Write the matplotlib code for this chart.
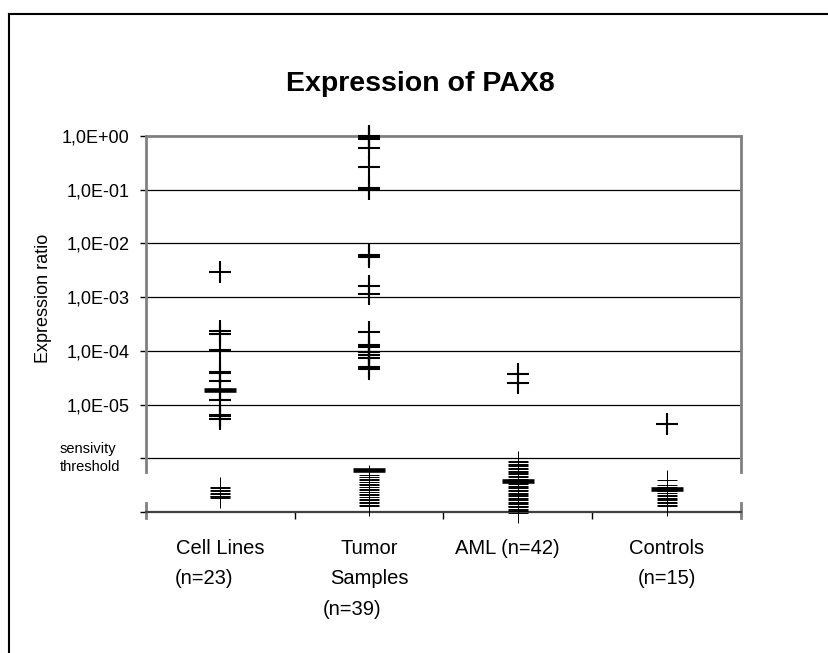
import matplotlib
matplotlib.use('Agg')
import matplotlib.pyplot as plt
from matplotlib.lines import Line2D

plt.rcParams['font.family'] = ['Liberation Sans', 'DejaVu Sans']

# --- data ---
categories = ['Cell Lines', 'Tumor Samples', 'AML', 'Controls']

cell_lines_detected = [3.0e-3, 2.3e-4, 2.1e-4, 1.05e-4, 4.0e-5, 3.8e-5, 2.8e-5,
                       1.9e-5, 1.85e-5, 1.2e-5, 6.3e-6, 6.1e-6, 5.3e-6]
cell_lines_below = [2.9e-7, 2.75e-7, 2.6e-7, 2.45e-7, 2.3e-7, 2.15e-7, 2.0e-7,
                    1.95e-7, 1.9e-7, 1.85e-7]

tumor_detected = [1.02, 0.97, 0.88, 0.60, 0.26, 0.108, 0.103, 6.1e-3, 5.5e-3,
                  1.63e-3, 1.16e-3, 2.27e-4, 1.26e-4, 1.18e-4, 9.6e-5, 8.4e-5,
                  7.4e-5, 4.9e-5, 4.6e-5]
tumor_below = [4.88e-7, 4.48e-7, 4.2e-7, 3.94e-7, 3.61e-7, 3.39e-7, 3.18e-7,
               2.92e-7, 2.73e-7, 2.56e-7, 2.35e-7, 2.21e-7, 2.07e-7, 1.9e-7,
               1.78e-7, 1.67e-7, 1.53e-7, 1.44e-7, 1.35e-7, 1.29e-7]

aml_detected = [3.66e-5, 2.55e-5]
aml_below = [8.9e-7, 8.4e-7, 7.9e-7, 7.5e-7, 7.05e-7, 6.6e-7, 6.25e-7, 5.9e-7,
             5.6e-7, 5.3e-7, 5.0e-7, 4.7e-7, 4.4e-7, 4.15e-7, 3.95e-7, 3.7e-7,
             3.5e-7, 3.3e-7, 3.1e-7, 2.95e-7, 2.75e-7, 2.6e-7, 2.45e-7, 2.3e-7,
             2.2e-7, 2.07e-7, 1.95e-7, 1.85e-7, 1.74e-7, 1.64e-7, 1.55e-7,
             1.46e-7, 1.38e-7, 1.3e-7, 1.3e-7, 1.23e-7, 1.16e-7, 1.09e-7,
             1.03e-7, 9.5e-8]

controls_detected = [4.3e-6]
controls_below = [3.94e-7, 3.22e-7, 2.86e-7, 2.51e-7, 2.25e-7, 2.11e-7, 1.98e-7,
                  1.86e-7, 1.74e-7, 1.64e-7, 1.53e-7, 1.44e-7, 1.35e-7, 1.29e-7]

medians = [1.86e-5, 5.97e-7, 3.77e-7, 2.64e-7]

yticks = [1e0, 1e-1, 1e-2, 1e-3, 1e-4, 1e-5, 1e-6, 1e-7]
ytick_labels = ['1,0E+00', '1,0E-01', '1,0E-02', '1,0E-03', '1,0E-04', '1,0E-05', '', '']

# category labels, one entry per text line: (text, x in category units, y px, ha)
cat_label_lines = [
    ('Cell Lines', 0.0, 548, 'center'),
    ('(n=23)', -0.305, 579, 'left'),
    ('Tumor', 1.0, 548, 'center'),
    ('Samples', 1.0, 579, 'center'),
    ('(n=39)', 0.885, 609, 'center'),
    ('AML (n=42)', 1.927, 548, 'center'),
    ('Controls', 3.0, 548, 'center'),
    ('(n=15)', 3.0, 579, 'center'),
]

detected = [cell_lines_detected, tumor_detected, aml_detected, controls_detected]
below = [cell_lines_below, tumor_below, aml_below, controls_below]

W, H = 829, 653
fig = plt.figure(figsize=(W / 100, H / 100), dpi=100)
ax = fig.add_axes([146 / W, 1 - 512 / H, (741 - 146) / W, (512 - 136) / H])

ax.set_yscale('log')
ax.set_ylim(1e-7, 1e0)
ax.set_xlim(-0.5, 3.5)

# gridlines at the decades (incl. threshold)
for v in yticks[1:-1]:
    ax.axhline(v, color='black', lw=0.9, zorder=1)

for i in range(len(categories)):
    ax.plot([i] * len(detected[i]), detected[i], '+', ms=16, mew=1.5,
            color='black', clip_on=False, zorder=3)
    ax.plot([i] * len(below[i]), below[i], '+', ms=14, mew=0.7,
            color='black', clip_on=False, zorder=3)
ax.plot(range(len(categories)), medians, '_', ms=23, mew=3.3,
        color='black', clip_on=False, zorder=4)

# spines: gray frame with a break below the threshold line
for s in ['left', 'right', 'top', 'bottom']:
    ax.spines[s].set_visible(False)
gray = '#808080'
ax.plot([0, 1], [1, 1], transform=ax.transAxes, color=gray, lw=2, clip_on=False)
y_break_top = (512 - 472) / 376
y_break_bot = (512 - 503) / 376
for xs in [0, 1]:
    ax.plot([xs, xs], [1, y_break_top], transform=ax.transAxes, color=gray,
            lw=2, clip_on=False)
    ax.plot([xs, xs], [y_break_bot, -6 / 376], transform=ax.transAxes,
            color=gray, lw=2, clip_on=False)
ax.plot([0, 1], [0, 0], transform=ax.transAxes, color='#404040', lw=1.6,
        clip_on=False)

ax.set_yticks(yticks)
ax.set_yticklabels(ytick_labels, fontsize=13)
ax.minorticks_off()
ax.tick_params(axis='y', direction='out', length=4, width=1, color='black', pad=8)
ax.set_xticks([0.5, 1.5, 2.5])
ax.set_xticklabels([])
ax.tick_params(axis='x', direction='out', length=5, width=1, color='black')

for text, xd, ypx, ha in cat_label_lines:
    ax.text(xd, 1 - (ypx - 136) / 376, text, transform=ax.get_xaxis_transform(),
            ha=ha, va='center', fontsize=14.5)

fig.text(60 / W, 1 - 458 / H, 'sensivity\nthreshold', ha='left', va='center',
         fontsize=10.5, linespacing=1.35)
fig.text(44 / W, 1 - 298 / H, 'Expression ratio', rotation=90, ha='center',
         va='center', fontsize=13)
fig.text(420 / W, 1 - 84 / H, 'Expression of PAX8', ha='center', va='center',
         fontsize=20.5, fontweight='bold')

# outer chart border (top and left edges visible)
fig.add_artist(Line2D([9 / W, 9 / W], [1 - 14 / H, 0], color='black', lw=1.5))
fig.add_artist(Line2D([9 / W, 1], [1 - 14 / H, 1 - 14 / H], color='black', lw=1.5))

fig.savefig('out.png', dpi=100)
